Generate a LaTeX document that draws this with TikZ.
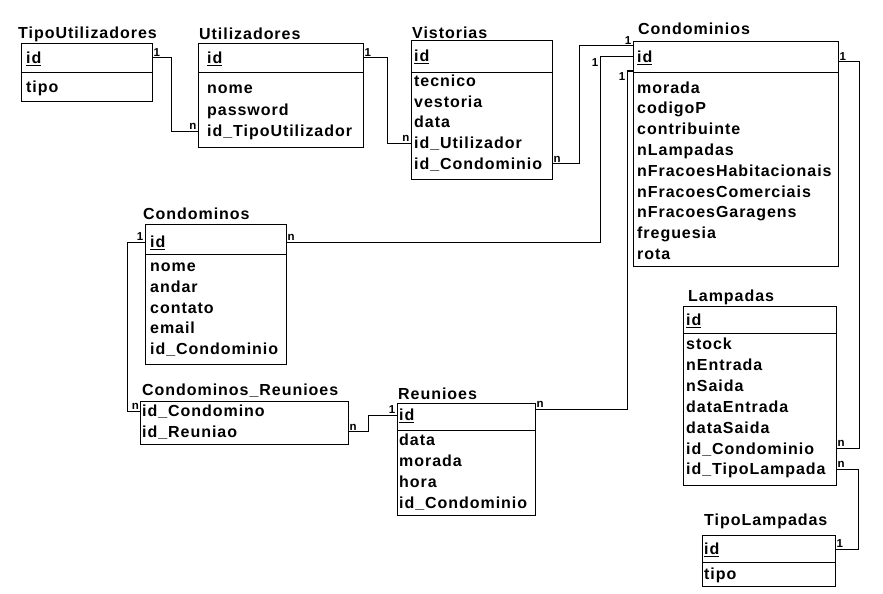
\documentclass[tikz,border=0pt]{standalone}
\usepackage{fontspec}
\newfontfamily\erfont[LetterSpace=6]{Liberation Sans}
\newfontfamily\cardfont{Liberation Sans}
\usetikzlibrary{positioning}

\begin{document}
\begin{tikzpicture}[
  x=1pt, y=-1pt,
  entity/.style={draw, line width=1pt, anchor=north west, inner sep=0pt, outer sep=0pt},
  sep/.style={line width=1pt},
  title/.style={anchor=base west, inner sep=0pt, font=\erfont\bfseries\fontsize{16}{18}\selectfont},
  field/.style={anchor=west, inner sep=0pt, text height=12pt, text depth=1pt, font=\erfont\bfseries\fontsize{16}{18}\selectfont},
  card/.style={inner sep=1.2pt, font=\cardfont\bfseries\fontsize{11.5}{12}\selectfont},
  link/.style={line width=1pt},
]
  \useasboundingbox (0,0) rectangle (883,594);

  % TipoUtilizadores
  \node[title] (tipou-t) at (18,38) {TipoUtilizadores};
  \node[entity, minimum width=130.5pt, minimum height=57pt] (tipou) at (21.5,44) {};
  \draw[sep] ([yshift=-28pt]tipou.north west) -- ([yshift=-28pt]tipou.north east);
  \node[field] (tipou-id) at (26,58) {\underline{id}};
  \node[field] (tipou-1) at (26,87) {tipo};

  % Utilizadores
  \node[title] (util-t) at (199,40) {Utilizadores};
  \node[entity, minimum width=165pt, minimum height=103pt] (util) at (198,44) {};
  \draw[sep] ([yshift=-28pt]util.north west) -- ([yshift=-28pt]util.north east);
  \node[field] (util-id) at (207,58) {\underline{id}};
  \foreach \f [count=\i] in {nome, password, id\_TipoUtilizador}
    \node[field] (util-\i) at (207,{88+21.5*(\i-1)}) {\f};

  % Vistorias
  \node[title] (vist-t) at (412,38) {Vistorias};
  \node[entity, minimum width=141pt, minimum height=138pt] (vist) at (411,41) {};
  \draw[sep] ([yshift=-31pt]vist.north west) -- ([yshift=-31pt]vist.north east);
  \node[field] (vist-id) at (414,56.5) {\underline{id}};
  \foreach \f [count=\i] in {tecnico, vestoria, data, id\_Utilizador, id\_Condominio}
    \node[field] (vist-\i) at (414,{81+20.7*(\i-1)}) {\f};

  % Condominios
  \node[title] (cond-t) at (638,35) {Condominios};
  \node[entity, minimum width=205pt, minimum height=224pt] (cond) at (633,42) {};
  \draw[sep] ([yshift=-30pt]cond.north west) -- ([yshift=-30pt]cond.north east);
  \node[field] (cond-id) at (637,57) {\underline{id}};
  \foreach \f [count=\i] in {morada, codigoP, contribuinte, nLampadas, nFracoesHabitacionais,
      nFracoesComerciais, nFracoesGaragens, freguesia, rota}
    \node[field] (cond-\i) at (637,{87.5+20.8*(\i-1)}) {\f};

  % Condominos
  \node[title] (condm-t) at (143,219) {Condominos};
  \node[entity, minimum width=141pt, minimum height=140pt] (condm) at (145,224) {};
  \draw[sep] ([yshift=-30pt]condm.north west) -- ([yshift=-30pt]condm.north east);
  \node[field] (condm-id) at (150,242) {\underline{id}};
  \foreach \f [count=\i] in {nome, andar, contato, email, id\_Condominio}
    \node[field] (condm-\i) at (150,{266+20.8*(\i-1)}) {\f};

  % Condominos_Reunioes
  \node[title] (cr-t) at (142,395) {Condominos\_Reunioes};
  \node[entity, minimum width=207.5pt, minimum height=42.5pt] (cr) at (140.5,401.5) {};
  \foreach \f [count=\i] in {id\_Condomino, id\_Reuniao}
    \node[field] (cr-\i) at (142,{411+20.7*(\i-1)}) {\f};

  % Reunioes
  \node[title] (reun-t) at (398,399) {Reunioes};
  \node[entity, minimum width=138pt, minimum height=112pt] (reun) at (397,403) {};
  \draw[sep] ([yshift=-27pt]reun.north west) -- ([yshift=-27pt]reun.north east);
  \node[field] (reun-id) at (399,415) {\underline{id}};
  \foreach \f [count=\i] in {data, morada, hora, id\_Condominio}
    \node[field] (reun-\i) at (399,{440+21*(\i-1)}) {\f};

  % Lampadas
  \node[title] (lamp-t) at (688,301) {Lampadas};
  \node[entity, minimum width=153pt, minimum height=179pt] (lamp) at (683,306) {};
  \draw[sep] ([yshift=-27pt]lamp.north west) -- ([yshift=-27pt]lamp.north east);
  \node[field] (lamp-id) at (686,320) {\underline{id}};
  \foreach \f [count=\i] in {stock, nEntrada, nSaida, dataEntrada, dataSaida, id\_Condominio, id\_TipoLampada}
    \node[field] (lamp-\i) at (686,{344+20.9*(\i-1)}) {\f};

  % TipoLampadas
  \node[title] (tlamp-t) at (704,525) {TipoLampadas};
  \node[entity, minimum width=133pt, minimum height=51pt] (tlamp) at (702,535) {};
  \draw[sep] ([yshift=-27pt]tlamp.north west) -- ([yshift=-27pt]tlamp.north east);
  \node[field] (tlamp-id) at (704,549) {\underline{id}};
  \node[field] (tlamp-1) at (704,574) {tipo};

  % relations
  \draw[link] (tipou-id -| tipou.east) node[card, anchor=south west] {1}
    -- ++(19,0) |- (util-3 -| util.west) node[card, anchor=south east] {n};
  \draw[link] (util-id -| util.east) node[card, anchor=south west] {1}
    -- ++(24,0) |- (vist-4 -| vist.west) node[card, anchor=south east] {n};
  \draw[link] (vist-5 -| vist.east) node[card, anchor=south west] {n}
    -- ++(27,0) |- ([yshift=-4pt]cond.north west) node[card, anchor=south east] {1};
  \draw[link] (cond-id -| cond.west) -- ++(-33,0) node[card, anchor=north east] {1}
    |- (condm-id -| condm.east) node[card, anchor=south west] {n};
  \draw[link] ([yshift=-29pt]cond.north west) -- ++(-6,0) node[card, anchor=north east] {1}
    |- ([yshift=-6pt]reun.north east) node[card, anchor=south west] {n};
  \draw[link] ([yshift=-20pt]cond.north east) node[card, anchor=south west] {1}
    -- ++(21,0) |- (lamp-6 -| lamp.east) node[card, anchor=south west] {n};
  \draw[link] (lamp-7 -| lamp.east) node[card, anchor=south west] {n}
    -- ++(22,0) |- (tlamp-id -| tlamp.east) node[card, anchor=south west] {1};
  \draw[link] (condm-id -| condm.west) node[card, anchor=south east] {1}
    -- ++(-18,0) |- (cr-1 -| cr.west) node[card, anchor=south east] {n};
  \draw[link] (cr-2 -| cr.east) node[card, anchor=south west] {n}
    -- ++(20,0) |- (reun-id -| reun.west) node[card, anchor=south east] {1};
\end{tikzpicture}
\end{document}
